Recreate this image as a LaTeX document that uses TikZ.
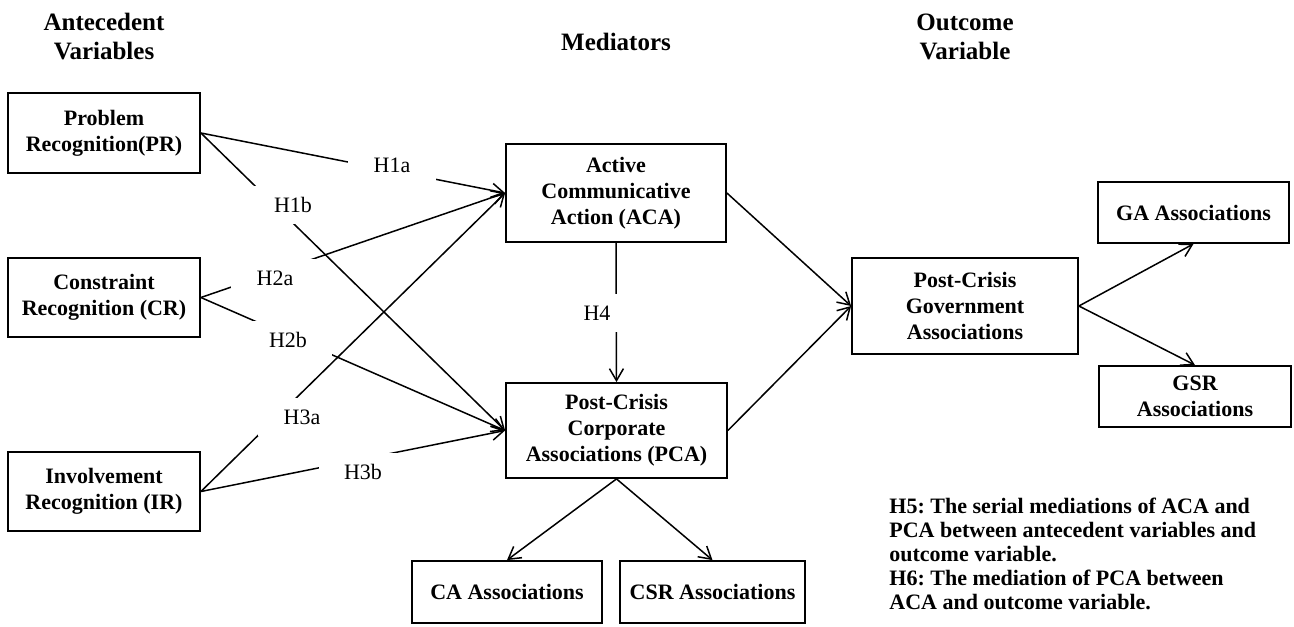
\documentclass[tikz,border=0pt]{standalone}
\usepackage{fontspec}
\setmainfont{Liberation Serif}
\usetikzlibrary{arrows.meta}
\frenchspacing

\begin{document}
\begin{tikzpicture}[
    x=0.5pt, y=-0.5pt,
    box/.style={draw, line width=0.9pt, align=center, inner sep=0pt, font=\fontsize{11}{13}\selectfont\bfseries},
    head/.style={align=center, font=\fontsize{12.5}{14.5}\selectfont\bfseries},
    hyp/.style={fill=white, inner sep=0pt, minimum width=44pt, minimum height=19pt, font=\fontsize{11}{13}\selectfont},
    note/.style={align=left, inner sep=0pt, font=\fontsize{11}{12}\selectfont\bfseries},
    link/.style={line width=0.75pt, -{Straight Barb[length=6pt, width=7pt]}}
]
\useasboundingbox (0,0) rectangle (1294,626);

\node[head] (hant) at (104,37) {Antecedent\\Variables};
\node[head] (hmed) at (616,42) {Mediators};
\node[head] (hout) at (965,37) {Outcome\\Variable};

\node[box, minimum width=96pt, minimum height=40pt] (pr) at (104,133) {Problem\\Recognition(PR)};
\node[box, minimum width=96pt, minimum height=39.5pt] (cr) at (104,297.5) {Constraint\\Recognition (CR)};
\node[box, minimum width=96pt, minimum height=39.5pt] (ir) at (104,491.5) {Involvement\\Recognition (IR)};
\node[box, minimum width=110pt, minimum height=49pt] (aca) at (616,193) {Active\\Communicative\\Action (ACA)};
\node[box, minimum width=110.5pt, minimum height=47.5pt] (pca) at (616.5,430.5) {Post-Crisis\\Corporate\\Associations (PCA)};
\node[box, minimum width=113pt, minimum height=48pt] (pcga) at (965,306) {Post-Crisis\\Government\\Associations};
\node[box, minimum width=95.5pt, minimum height=30.5pt] (ga) at (1193.5,212.5) {GA Associations};
\node[box, minimum width=96pt, minimum height=30.5pt] (gsr) at (1195,396.5) {GSR\\Associations};
\node[box, minimum width=95pt, minimum height=31pt] (ca) at (507,592) {CA Associations};
\node[box, minimum width=92.5pt, minimum height=31pt] (csr) at (712.5,592) {CSR Associations};

\draw[link] (pr.east) -- (aca.west);
\draw[link] (pr.east) -- (pca.west);
\draw[link] (cr.east) -- (aca.west);
\draw[link] (cr.east) -- (pca.west);
\draw[link] (ir.east) -- (aca.west);
\draw[link] (ir.east) -- (pca.west);
\draw[link] (aca.south) -- (pca.north);
\draw[link] (aca.east) -- (pcga.west);
\draw[link] (pca.east) -- (pcga.west);
\draw[link] (pcga.east) -- (ga.south);
\draw[link] (pcga.east) -- (gsr.north);
\draw[link] (pca.south) -- (ca.north);
\draw[link] (pca.south) -- (csr.north);

\node[hyp] (h1a) at (392,165) {H1a};
\node[hyp] (h1b) at (293,205) {H1b};
\node[hyp] (h2a) at (275,278) {H2a};
\node[hyp] (h2b) at (288,340) {H2b};
\node[hyp] (h3a) at (302,417) {H3a};
\node[hyp] (h3b) at (363,472) {H3b};
\node[hyp] (h4) at (597,313) {H4};

\node[note, anchor=north west] (notes) at (889,498) {H5: The serial mediations of ACA and\\PCA between antecedent variables and\\outcome variable.\\H6: The mediation of PCA between\\ACA and outcome variable.};
\end{tikzpicture}
\end{document}
